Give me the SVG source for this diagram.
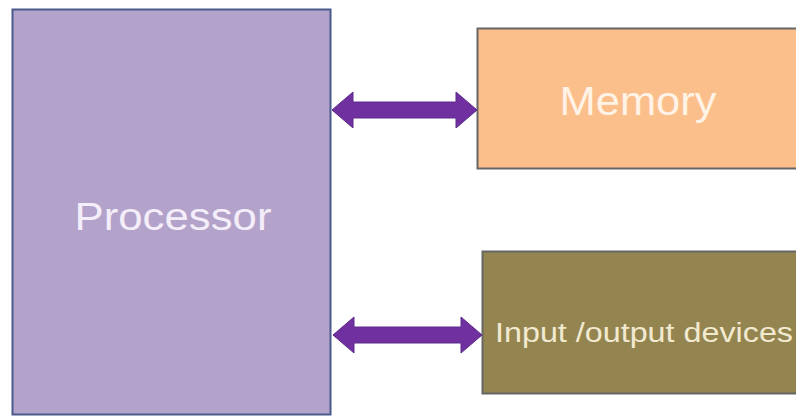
<svg xmlns="http://www.w3.org/2000/svg" width="796" height="416" viewBox="0 0 796 416">
  <style>
    .lbl { font-family: "Liberation Sans", Arial, sans-serif; }
    .arrow { fill: #7030a0; stroke: #5a2a8a; stroke-width: 1; }
  </style>
  <rect width="796" height="416" fill="#ffffff"/>
  <g id="processor">
    <rect x="12.5" y="9.5" width="318" height="405" fill="#b3a2c9" stroke="#4b5a8c" stroke-width="2"/>
    <text class="lbl" x="173" y="230" font-size="39" fill="#f4eefa" text-anchor="middle" textLength="197" lengthAdjust="spacingAndGlyphs">Processor</text>
  </g>
  <g id="memory">
    <rect x="477.5" y="28.5" width="330" height="140" fill="#fbbf8c" stroke="#666666" stroke-width="2"/>
    <text class="lbl" x="638" y="115" font-size="41" fill="#fff3e6" text-anchor="middle" textLength="157" lengthAdjust="spacingAndGlyphs">Memory</text>
  </g>
  <g id="io">
    <rect x="482.5" y="251.5" width="330" height="142" fill="#948550" stroke="#666666" stroke-width="2"/>
    <text class="lbl" x="495" y="342" font-size="27" fill="#f2ead0" textLength="298" lengthAdjust="spacingAndGlyphs">Input /output devices</text>
  </g>
  <g id="connectors">
    <polygon class="arrow" points="332,110 353,92 353,102 456,102 456,92 477,110 456,128 456,118 353,118 353,128"/>
    <polygon class="arrow" points="333,335 354,317 354,327 461,327 461,317 482,335 461,353 461,343 354,343 354,353"/>
  </g>
</svg>
